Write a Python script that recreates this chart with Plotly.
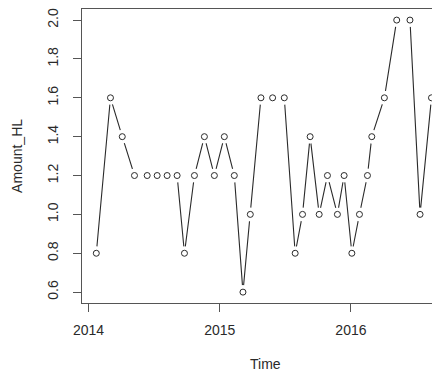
import plotly.graph_objects as go

# Observation times (decimal years) and amounts
time = [
    2014.059, 2014.167, 2014.257, 2014.350, 2014.447, 2014.523, 2014.599,
    2014.675, 2014.731, 2014.807, 2014.883, 2014.959, 2015.035, 2015.111,
    2015.177, 2015.233, 2015.314, 2015.403, 2015.492, 2015.575, 2015.631,
    2015.689, 2015.758, 2015.821, 2015.897, 2015.948, 2016.007, 2016.065,
    2016.126, 2016.159, 2016.255, 2016.349, 2016.450, 2016.527, 2016.614,
]
amount_hl = [
    0.8, 1.6, 1.4, 1.2, 1.2, 1.2, 1.2,
    1.2, 0.8, 1.2, 1.4, 1.2, 1.4, 1.2,
    0.6, 1.0, 1.6, 1.6, 1.6, 0.8, 1.0,
    1.4, 1.0, 1.2, 1.0, 1.2, 0.8, 1.0,
    1.2, 1.4, 1.6, 2.0, 2.0, 1.0, 1.6,
]
x_ticks = [2014, 2015, 2016]
y_ticks = [0.6, 0.8, 1.0, 1.2, 1.4, 1.6, 1.8, 2.0]

ink = "#2a2a2a"
font = dict(family="Liberation Sans, Arial, sans-serif", size=14, color=ink)

fig = go.Figure()
# connecting line
fig.add_trace(go.Scatter(x=time, y=amount_hl, mode="lines",
                         line=dict(color=ink, width=1.1), hoverinfo="skip"))
# white halo leaves a gap between line and point (type "b" look)
fig.add_trace(go.Scatter(x=time, y=amount_hl, mode="markers",
                         marker=dict(symbol="circle", size=14, color="white",
                                     line=dict(width=0)), hoverinfo="skip"))
# open circle points
fig.add_trace(go.Scatter(x=time, y=amount_hl, mode="markers",
                         marker=dict(symbol="circle", size=6, color="white",
                                     line=dict(color=ink, width=1))))

fig.update_layout(
    width=432, height=372,
    margin=dict(l=82, r=0, t=9, b=69),
    paper_bgcolor="white", plot_bgcolor="white",
    showlegend=False, font=font,
    xaxis=dict(range=[2013.950, 2016.618], tickvals=x_ticks,
               ticktext=[str(v) for v in x_ticks],
               showgrid=False, zeroline=False,
               showline=True, linecolor="#555", linewidth=1.2, mirror=True,
               ticks="outside", ticklen=8, tickcolor="#555", tickwidth=1.2,
               ticklabelstandoff=6, tickfont=font),
    yaxis=dict(range=[0.544, 2.057], tickvals=y_ticks,
               ticktext=[f"{v:.1f}" for v in y_ticks],
               showgrid=False, zeroline=False,
               showline=True, linecolor="#555", linewidth=1.2, mirror=False,
               ticks="outside", ticklen=8, tickcolor="#555", tickwidth=1.2,
               tickangle=-90, ticklabelstandoff=9, tickfont=font),
    annotations=[
        dict(text="Time", xref="paper", yref="paper", x=0.523, y=-0.208,
             xanchor="center", yanchor="middle", showarrow=False, font=font),
        dict(text="Amount_HL", xref="paper", yref="paper", x=-0.186, y=0.5,
             xanchor="center", yanchor="middle", textangle=-90,
             showarrow=False, font=font),
    ],
)

fig.write_html("out.html")
